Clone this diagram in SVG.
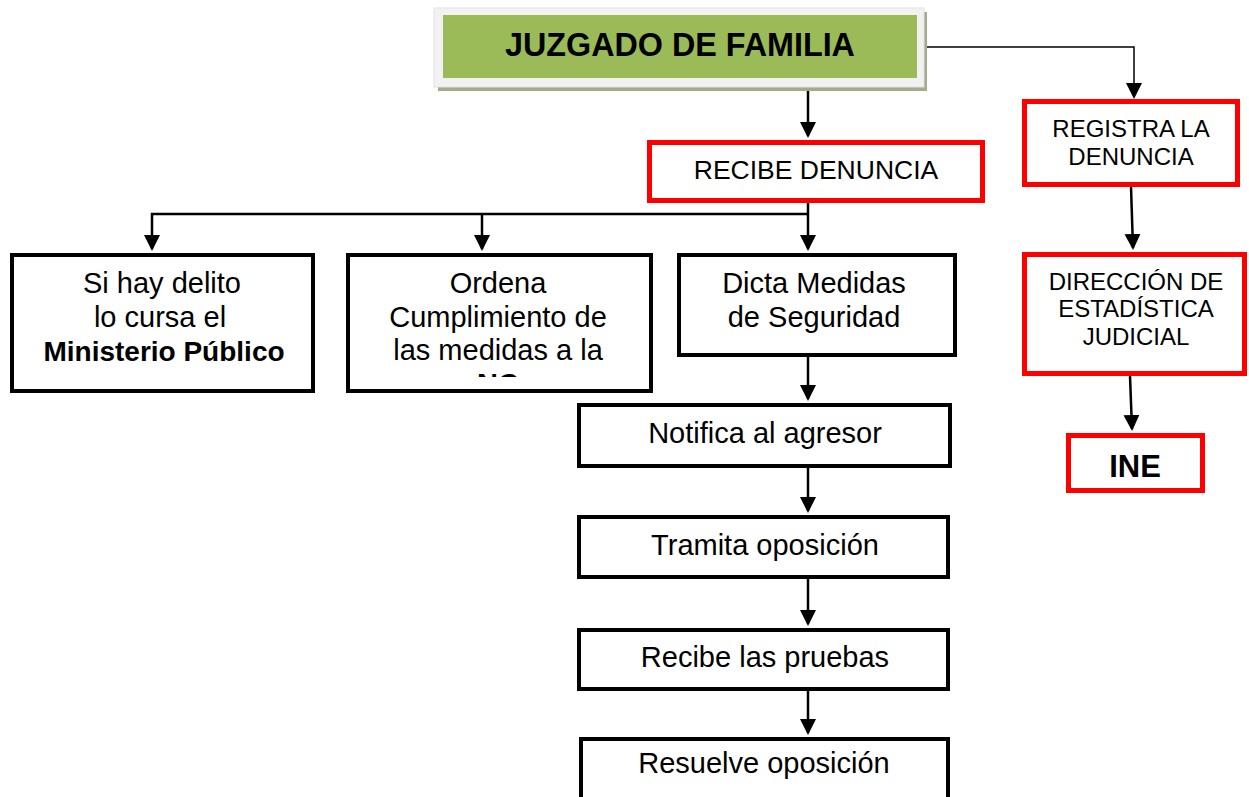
<svg xmlns="http://www.w3.org/2000/svg" width="1249" height="797" viewBox="0 0 1249 797">
<style>
  .t { font-family: "Liberation Sans", Arial, sans-serif; fill: #000; text-anchor: middle; }
  .body { font-size: 29px; }
  .caps { font-size: 24px; }
  .b { font-weight: bold; }
  .blk { fill: #fff; stroke: #000; stroke-width: 4; }
  .red { fill: #fff; stroke: #ff0000; stroke-width: 5; }
  .c { fill: none; stroke: #000; stroke-width: 2.5; }
  .thin { fill: none; stroke: #000; stroke-width: 1.5; }
</style>
<defs>
  <marker id="ah" markerUnits="userSpaceOnUse" markerWidth="17" markerHeight="17" refX="14" refY="8" orient="auto">
    <path d="M0,0 L16,8 L0,16 Z" fill="#000"/>
  </marker>
  <clipPath id="clipNC">
    <rect x="348" y="255" width="303" height="122"/>
  </clipPath>
</defs>
<rect width="1249" height="797" fill="#fff"/>

<g id="connectors">
  <polyline class="thin" points="920,47 1134,47 1134,97" marker-end="url(#ah)"/>
  <line class="c" x1="808" y1="91" x2="808" y2="136" marker-end="url(#ah)"/>
  <line class="c" x1="808" y1="203" x2="808" y2="249" marker-end="url(#ah)"/>
  <polyline class="c" points="808,214 152,214 152,249" marker-end="url(#ah)"/>
  <line class="c" x1="482" y1="214" x2="482" y2="249" marker-end="url(#ah)"/>
  <line class="c" x1="808" y1="357" x2="808" y2="399" marker-end="url(#ah)"/>
  <line class="c" x1="808" y1="468" x2="808" y2="511" marker-end="url(#ah)"/>
  <line class="c" x1="808" y1="579" x2="808" y2="624" marker-end="url(#ah)"/>
  <line class="c" x1="808" y1="691" x2="808" y2="733" marker-end="url(#ah)"/>
  <line class="c" x1="1131" y1="187" x2="1133" y2="248" marker-end="url(#ah)"/>
  <line class="c" x1="1130" y1="376" x2="1132" y2="429" marker-end="url(#ah)"/>
</g>

<g id="juzgado">
  <rect x="438" y="12" width="489" height="79" fill="#a3ab8d"/>
  <rect x="434" y="8" width="490" height="79" fill="#f2f2f2" stroke="#e2e2e2" stroke-width="1"/>
  <rect x="443" y="15" width="474" height="63" fill="#9bbb59"/>
  <text class="t b" x="680" y="56" font-size="32.3">JUZGADO DE FAMILIA</text>
</g>

<g id="recibe-denuncia">
  <rect class="red" x="649.5" y="142.5" width="333" height="58"/>
  <text class="t" x="816" y="179" font-size="26.5">RECIBE DENUNCIA</text>
</g>

<g id="registra">
  <rect class="red" x="1024.5" y="101.5" width="213" height="83"/>
  <text class="t caps" x="1131" y="137">REGISTRA LA</text>
  <text class="t caps" x="1131" y="165">DENUNCIA</text>
</g>

<g id="direccion">
  <rect class="red" x="1024.5" y="254.5" width="220" height="119"/>
  <text class="t caps" x="1136" y="290">DIRECCIÓN DE</text>
  <text class="t caps" x="1136" y="317">ESTADÍSTICA</text>
  <text class="t caps" x="1136" y="345">JUDICIAL</text>
</g>

<g id="ine">
  <rect class="red" x="1068.5" y="435.5" width="134" height="55"/>
  <text class="t b" x="1135" y="477" font-size="31">INE</text>
</g>

<g id="ministerio">
  <rect class="blk" x="12" y="255" width="301" height="136"/>
  <text class="t body" x="162" y="293">Si hay delito</text>
  <text class="t body" x="160" y="327">lo cursa el</text>
  <text class="t b" x="164" y="361" font-size="28">Ministerio Público</text>
</g>

<g id="ordena">
  <rect class="blk" x="348" y="255" width="303" height="136"/>
  <g clip-path="url(#clipNC)">
    <text class="t body" x="498" y="293">Ordena</text>
    <text class="t body" x="498" y="327">Cumplimiento de</text>
    <text class="t body" x="498" y="360">las medidas a la</text>
    <text class="t body b" x="498" y="394">NC</text>
  </g>
</g>

<g id="dicta">
  <rect class="blk" x="679" y="255" width="276" height="100"/>
  <text class="t body" x="814" y="293">Dicta Medidas</text>
  <text class="t body" x="814" y="327">de Seguridad</text>
</g>

<g id="notifica">
  <rect class="blk" x="579" y="405" width="371" height="61"/>
  <text class="t body" x="765" y="443">Notifica al agresor</text>
</g>

<g id="tramita">
  <rect class="blk" x="579" y="517" width="369" height="60"/>
  <text class="t body" x="765" y="555">Tramita oposición</text>
</g>

<g id="pruebas">
  <rect class="blk" x="579" y="630" width="369" height="59"/>
  <text class="t body" x="765" y="667">Recibe las pruebas</text>
</g>

<g id="resuelve">
  <rect class="blk" x="581" y="739" width="367" height="80"/>
  <text class="t body" x="764" y="773">Resuelve oposición</text>
</g>
</svg>
